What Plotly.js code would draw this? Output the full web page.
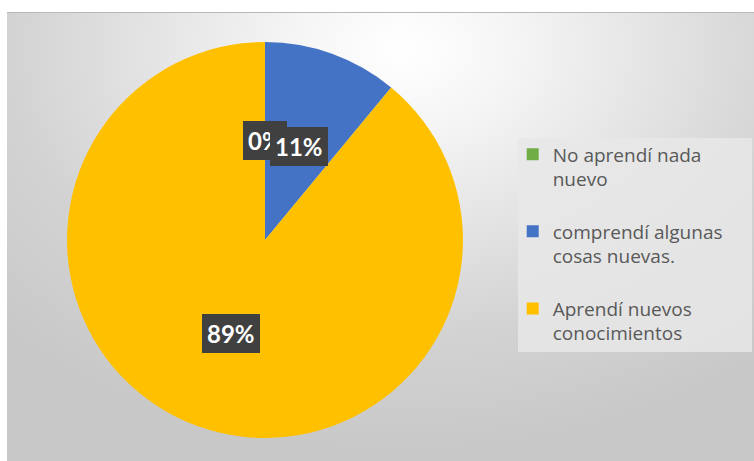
<!DOCTYPE html>
<html>
<head>
<meta charset="utf-8">
<script src="https://cdn.plot.ly/plotly-3.0.1.min.js"></script>
<style>
  html, body { margin: 0; padding: 0; background: #ffffff; }
  #wrap { position: relative; width: 754px; height: 461px; overflow: hidden; }
  #bg {
    position: absolute; left: 7px; top: 12px; width: 747px; height: 449px;
    border-top: 1px solid #b8b8b8;
    background: radial-gradient(ellipse 75% 90% at 53% 8%, #ffffff 0%, #f6f6f6 18%, #e4e4e4 45%, #d3d3d3 70%, #c8c8c8 100%);
  }
  #chart { position: absolute; left: 0; top: 0; width: 754px; height: 461px; }
</style>
</head>
<body>
<div id="wrap">
  <div id="bg"></div>
  <div id="chart"></div>
</div>
<script>
// ---- data ----
const categories = ['No aprendí nada nuevo', 'comprendí algunas cosas nuevas.', 'Aprendí nuevos conocimientos'];
const values = [0, 11, 89];
const colors = ['#70AD47', '#4472C4', '#FFC000'];

// ---- helpers ----
function wrap(s, maxLen) {
  const words = s.split(' ');
  const lines = [];
  let cur = '';
  words.forEach(w => {
    const t = cur ? cur + ' ' + w : w;
    if (t.length > maxLen && cur) { lines.push(cur); cur = w; } else { cur = t; }
  });
  if (cur) lines.push(cur);
  return lines;
}
// leading blank line keeps the legend marker aligned with the first text line
const legendLabels = categories.map(c => '\u00a0<br>' + wrap(c, 17).join('<br>'));

const W = 754, H = 461;
const dom = { x: [0.0889, 0.614], y: [0.0499, 0.909] };

const total = values.reduce((a, b) => a + b, 0);
const R = Math.min((dom.x[1] - dom.x[0]) * W, (dom.y[1] - dom.y[0]) * H) / 2;
const cx = (dom.x[0] + dom.x[1]) / 2;
const cy = (dom.y[0] + dom.y[1]) / 2;

let cum = 0;
const annotations = values.map((v, i) => {
  const mid = (cum + v / 2) / total * 2 * Math.PI;
  cum += v;
  return {
    xref: 'paper', yref: 'paper', x: cx, y: cy,
    xshift: 0.5 * R * Math.sin(mid), yshift: 0.5 * R * Math.cos(mid),
    text: Math.round(v / total * 100) + '%',
    showarrow: false,
    font: { family: 'Lato, sans-serif', size: 24, color: '#ffffff', weight: 'bold' },
    bgcolor: '#404040', borderpad: 5, borderwidth: 0,
    xanchor: 'center', yanchor: 'middle'
  };
});

const trace = {
  type: 'pie',
  labels: legendLabels,
  values: values,
  marker: { colors: colors, line: { width: 0 } },
  sort: false,
  direction: 'clockwise',
  rotation: 0,
  textinfo: 'none',
  hoverinfo: 'none',
  domain: dom,
  showlegend: true
};

const layout = {
  width: W, height: H,
  margin: { l: 0, r: 0, t: 0, b: 0 },
  paper_bgcolor: 'rgba(0,0,0,0)',
  plot_bgcolor: 'rgba(0,0,0,0)',
  showlegend: true,
  legend: {
    x: 0.680, xanchor: 'left', y: 0.760, yanchor: 'top',
    bgcolor: 'rgba(0,0,0,0)',
    font: { family: '"Open Sans", sans-serif', size: 19, color: '#595959' },
    itemclick: false, itemdoubleclick: false
  },
  shapes: [{
    type: 'rect', xref: 'paper', yref: 'paper',
    x0: 518 / W, x1: 752 / W, y0: 1 - 352 / H, y1: 1 - 138 / H,
    fillcolor: 'rgba(232,232,232,0.85)', line: { width: 0 }, layer: 'below'
  }],
  annotations: annotations
};

Plotly.newPlot('chart', [trace], layout, { staticPlot: true, displayModeBar: false });
</script>
</body>
</html>
